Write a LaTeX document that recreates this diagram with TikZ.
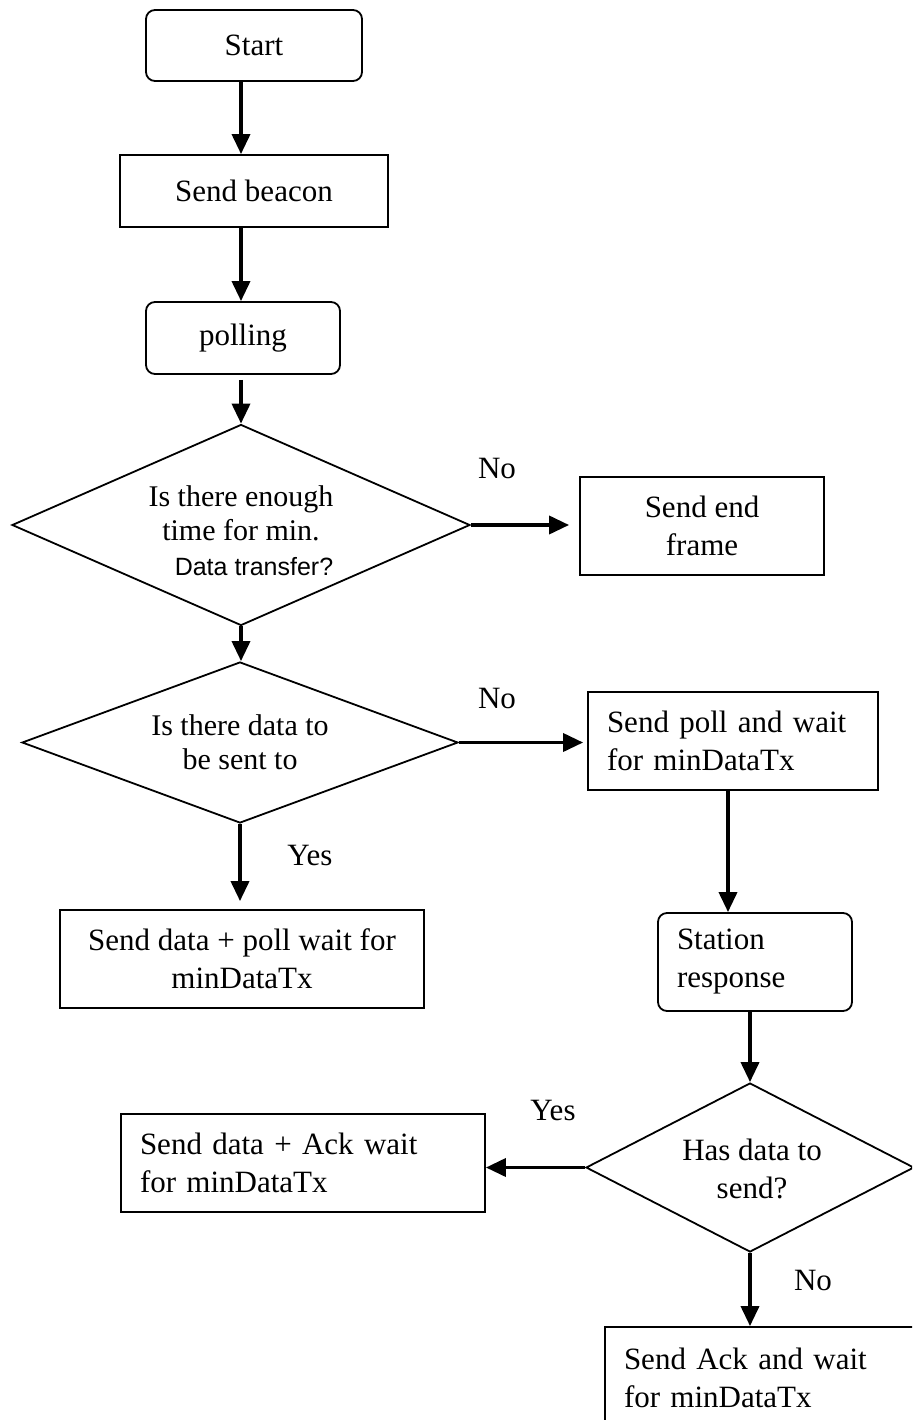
\documentclass[tikz,border=0pt]{standalone}
\usepackage{fontspec}
\setmainfont{Liberation Serif}
\setsansfont{Liberation Sans}
\usetikzlibrary{shapes.geometric,arrows.meta}
\begin{document}
\begin{tikzpicture}[x=1pt,y=-1pt,
  txt/.style={font=\fontsize{31}{38}\selectfont},
  box/.style={draw, line width=1.8pt, inner sep=0pt, txt, align=center},
  rbox/.style={box, rounded corners=9pt},
  lbox/.style={box, align=left, inner xsep=19pt},
  decision/.style={draw, diamond, line width=1.8pt, inner sep=0pt},
  dtext/.style={font=\fontsize{30}{34}\selectfont, align=center, inner sep=0pt},
  flow/.style={line width=3.6pt, -{Triangle[length=20pt,width=18pt]}},
  answer/.style={txt, inner sep=0pt}]
\clip (0,0) rectangle (912,1420);
\fill[white] (0,0) rectangle (912,1420);

% main column
\node[rbox, minimum width=216pt, minimum height=71pt] (start) at (254,45.5) {Start};
\node[box, minimum width=268pt, minimum height=72pt] (beacon) at (254,191) {Send beacon};
\node[rbox, minimum width=194pt, minimum height=72pt] (polling) at (243,338) {polling};

\node[decision, minimum width=458pt, minimum height=201pt] (d1) at (241,525) {};
\node[dtext] (d1t) at (241,531) {Is there enough\\time for min.\\[1pt]\hspace*{26pt}{\sffamily\fontsize{25}{30}\selectfont Data transfer?}};
\node[box, minimum width=244pt, minimum height=98pt] (endf) at (702,526) {Send end\\frame};

\node[decision, minimum width=436pt, minimum height=161pt] (d2) at (240,742.5) {};
\node[dtext] (d2t) at (240,742) {Is there data to\\be sent to};
\node[lbox, text width=252pt, minimum height=98pt] (spoll) at (733,741) {Send poll and wait\\for minDataTx};
\node[box, minimum width=364pt, minimum height=98pt] (sdata) at (242,959) {Send data + poll wait for\\minDataTx};

% station branch
\node[rbox, lbox, text width=156pt, minimum height=98pt] (station) at (755,962) {Station\\response};
\node[decision, minimum width=328pt, minimum height=169pt] (d3) at (750,1167.5) {};
\node[txt, align=center, inner sep=0pt] (d3t) at (752,1169) {Has data to\\send?};
\node[lbox, text width=326pt, minimum height=98pt] (sack) at (303,1163) {Send data + Ack wait\\for minDataTx};
\node[lbox, text width=292pt, minimum height=101pt] (ackw) at (770,1377.5) {Send Ack and wait\\for minDataTx};

% answer labels
\node[answer] (no1) at (497,468) {No};
\node[answer] (no2) at (497,698) {No};
\node[answer] (yes1) at (310,855) {Yes};
\node[answer] (yes2) at (553,1110) {Yes};
\node[answer] (no3) at (813,1280) {No};

% connectors
\draw[flow] (start.south -| d1.north) -- (beacon.north -| d1.north);
\draw[flow] (beacon.south -| d1.north) -- (polling.north -| d1.north);
\draw[flow, shorten <=5pt] (polling.south -| d1.north) -- (d1.north);
\draw[flow, shorten >=10pt] (d1.east) -- (d1.east -| endf.west);
\draw[flow] (d1.south) -- (d1.south |- d2.north);
\draw[flow, shorten >=4pt] (d2.east) -- (d2.east -| spoll.west);
\draw[flow, shorten >=8pt] (d2.south) -- (d2.south |- sdata.north);
\draw[flow] ([xshift=-5pt]spoll.south) -- ([xshift=-5pt]spoll.south |- station.north);
\draw[flow] (station.south -| d3.north) -- (d3.north);
\draw[flow] (d3.west) -- (d3.west -| sack.east);
\draw[flow] (d3.south) -- (d3.south |- ackw.north);
\end{tikzpicture}
\end{document}
